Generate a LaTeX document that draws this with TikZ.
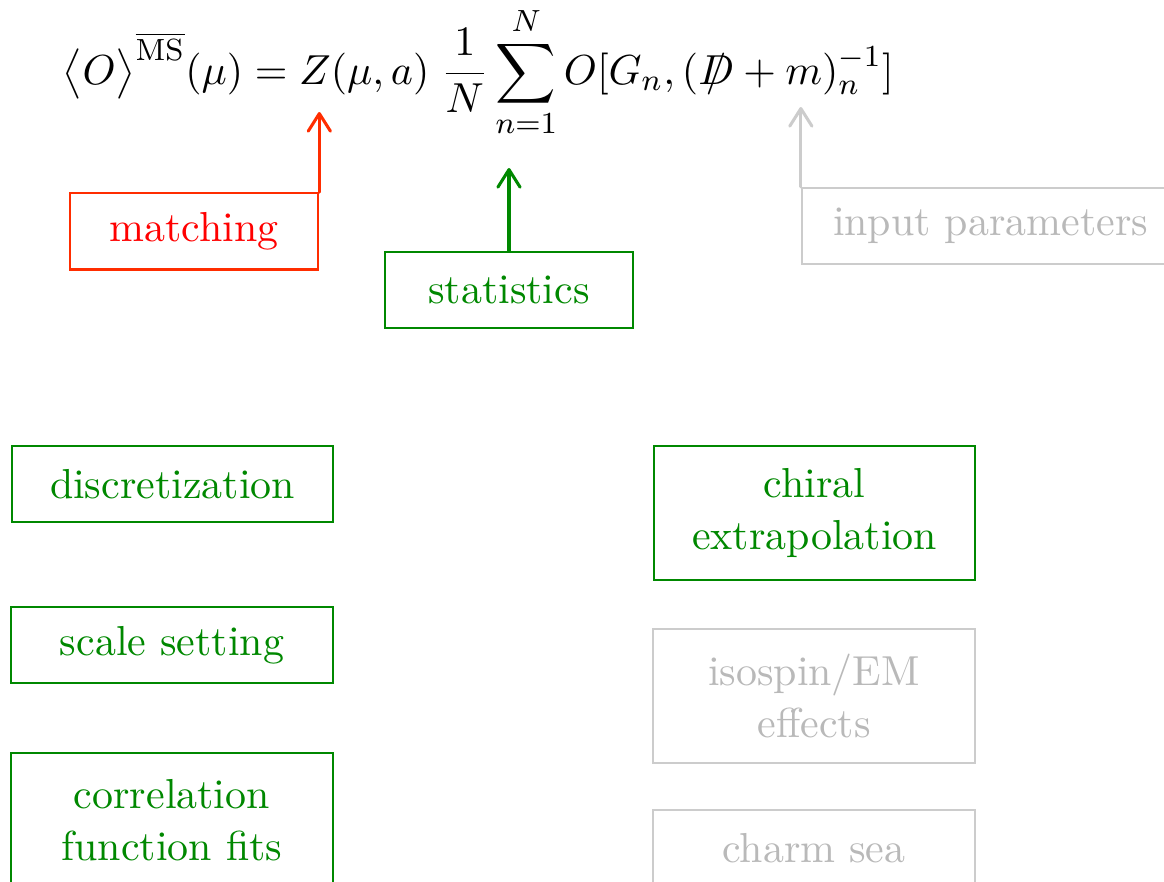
\documentclass[tikz,border=0pt]{standalone}
\usepackage{amsmath,amssymb}
\usepackage{xcolor}
\usetikzlibrary{arrows.meta, positioning, calc}
\definecolor{matchred}{RGB}{255,45,0}
\definecolor{statgreen}{RGB}{0,136,0}
\definecolor{paleline}{RGB}{204,204,204}
\definecolor{paletext}{RGB}{185,185,185}
\newcommand{\Dsl}{\mathord{\ooalign{$D$\cr\hidewidth$/$\hidewidth\cr}}}

\begin{document}
\begin{tikzpicture}[
  font=\fontsize{10.95}{13.6}\selectfont,
  redbox/.style={rectangle, draw=matchred, text=red, semithick,
                 minimum width=2.28cm, minimum height=0.70cm},
  greenbox/.style={rectangle, draw=statgreen, text=statgreen, semithick,
                   minimum width=2.95cm, minimum height=0.70cm, align=center},
  greybox/.style={rectangle, draw=paleline, text=paletext, semithick,
                  minimum width=2.95cm, minimum height=0.70cm, align=center},
  tall/.style={minimum height=1.23cm},
  arr/.style={-{Straight Barb[round, length=4.6pt, width=5.8pt]}, thick, line cap=round}
]
  \useasboundingbox (0,0) rectangle (10.682,-8.094);

  \node[anchor=base west, inner sep=0pt] (formula) at (0.569,-0.771)
    {$\displaystyle \big\langle O\big\rangle^{\overline{\mathrm{MS}}}(\mu) = Z(\mu,a)\;\frac{1}{N}\sum_{n=1}^{N} O[G_n,(\Dsl+m)_n^{-1}]$};

  % error sources attached to the formula
  \node[redbox] (match) at (1.780,-2.124) {matching};
  \node[greenbox, minimum width=2.28cm] (stat) at (4.671,-2.661) {statistics};
  \node[greybox, minimum width=3.46cm] (input) at (9.090,-2.074) {input parameters};

  \coordinate (zfac)  at (2.918,-1.028);
  \coordinate (ssum)  at (4.671,-1.542);
  \coordinate (mpar)  at (7.357,-0.982);

  \draw[arr, matchred]  (match.north east) -- (match.north east |- zfac);
  \draw[arr, statgreen] (stat.north) -- (stat.north |- ssum);
  \draw[arr, paleline]  (input.north west) -- (input.north west |- mpar);

  % left column
  \node[greenbox] (disc)  at (1.583,-4.442) {discretization};
  \node[greenbox] (scale) at (1.578,-5.919) {scale setting};
  \node[greenbox, tall] (corr) at (1.578,-7.525) {correlation\\function fits};

  % right column
  \node[greenbox, tall] (chiral) at (7.475,-4.708) {chiral\\extrapolation};
  \node[greybox, tall]  (iso)    at (7.470,-6.387) {isospin/EM\\effects};
  \node[greybox]        (charm)  at (7.470,-7.782) {charm sea};
\end{tikzpicture}
\end{document}
